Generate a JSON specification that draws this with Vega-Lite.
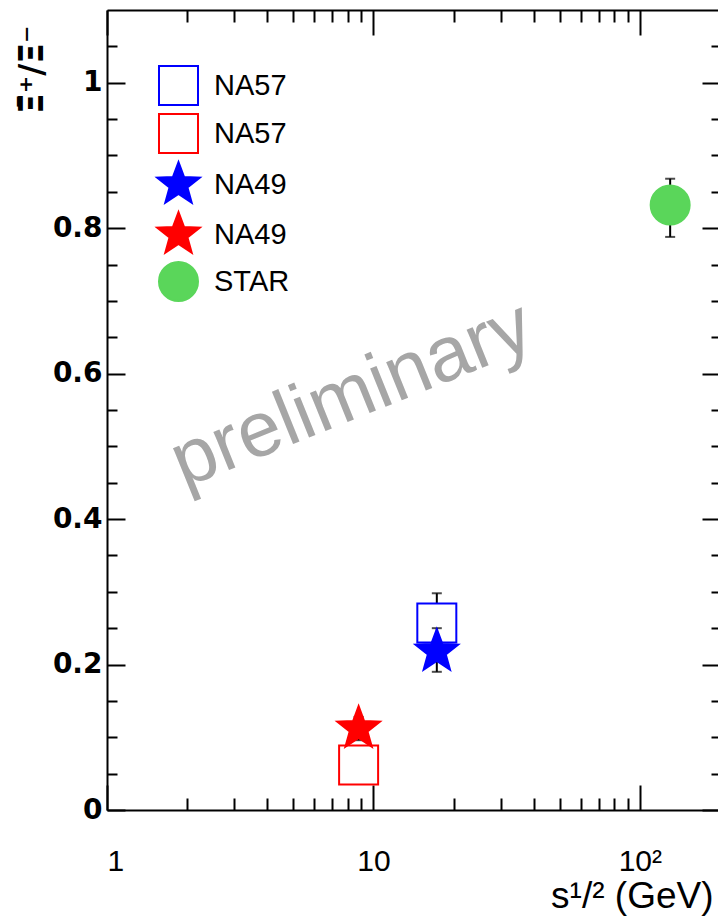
{
  "$schema": "https://vega.github.io/schema/vega-lite/v6.json",
  "width": 613,
  "height": 800,
  "autosize": "none",
  "padding": {"left": 107, "top": 10, "right": 0, "bottom": 107},
  "background": "white",
  "config": {
    "view": {"stroke": null},
    "axis": {"grid": false, "domainColor": "black", "domainWidth": 2, "tickColor": "black", "tickWidth": 2, "labelColor": "black", "titleColor": "black"}
  },
  "datasets": {
    "points": [
      {"series": "NA57 blue", "x": 17.3, "y": 0.257, "lo": 0.213, "hi": 0.298},
      {"series": "NA57 red", "x": 8.8, "y": 0.062, "lo": 0.054, "hi": 0.07},
      {"series": "NA49 blue", "x": 17.3, "y": 0.218, "lo": 0.19, "hi": 0.25},
      {"series": "NA49 red", "x": 8.8, "y": 0.112, "lo": 0.096, "hi": 0.128},
      {"series": "STAR", "x": 130, "y": 0.832, "lo": 0.788, "hi": 0.868}
    ],
    "watermark": [{"x": 8.31, "y": 0.57, "text": "preliminary"}]
  },
  "data": {"name": "points"},
  "resolve": {"axis": {"x": "independent", "y": "independent"}},
  "layer": [
    {
      "transform": [{"filter": "indexof(datum.series, 'NA57') == 0"}],
      "layer": [
        {"mark": {"type": "rule", "color": "black", "strokeWidth": 2},
         "encoding": {"x": {"field": "x", "type": "quantitative", "scale": {"type": "log", "domain": [1, 200], "nice": false}, "axis": null},
                      "y": {"field": "lo", "type": "quantitative", "scale": {"domain": [0, 1.1], "nice": false, "zero": false}, "axis": null},
                      "y2": {"field": "hi"}}},
        {"mark": {"type": "tick", "color": "black", "orient": "horizontal", "size": 10, "thickness": 2},
         "encoding": {"x": {"field": "x", "type": "quantitative", "axis": null}, "y": {"field": "hi", "type": "quantitative", "axis": null}}},
        {"mark": {"type": "tick", "color": "black", "orient": "horizontal", "size": 10, "thickness": 2},
         "encoding": {"x": {"field": "x", "type": "quantitative", "axis": null}, "y": {"field": "lo", "type": "quantitative", "axis": null}}}
      ]
    },
    {
      "transform": [{"filter": "indexof(datum.series, 'NA57') == 0"}],
      "mark": {"type": "point", "filled": true, "size": 1521, "strokeWidth": 2, "opacity": 1},
      "encoding": {
        "x": {"field": "x", "type": "quantitative", "scale": {"type": "log", "domain": [1, 200], "nice": false},
              "axis": {"orient": "bottom", "values": [1, 10, 100], "tickSize": -25, "labelPadding": 61,
                       "labelFont": "Liberation Sans", "labelFontSize": 30,
                       "labelExpr": "datum.value == 100 ? '10²' : datum.value == 10 ? '10' : '1'",
                       "title": "s¹/² (GeV)", "titleFont": "Liberation Sans", "titleFontSize": 37, "titleFontWeight": "normal",
                       "titleAnchor": "end", "titleX": 606, "titleAlign": "right", "titlePadding": 2}},
        "y": {"field": "y", "type": "quantitative", "scale": {"domain": [0, 1.1], "nice": false, "zero": false},
              "axis": {"orient": "left", "values": [0, 0.2, 0.4, 0.6, 0.8, 1], "tickSize": -18, "labelPadding": 23,
                       "labelFont": "DejaVu Sans", "labelFontWeight": "bold", "labelFontSize": 28,
                       "labelExpr": "format(datum.value, '~g')",
                       "title": "Ξ̄⁺/Ξ⁻", "titleFont": "DejaVu Sans", "titleFontWeight": "bold", "titleFontSize": 33,
                       "titleAnchor": "end", "titleY": 15, "titlePadding": 3}},
        "fill": {"field": "series", "type": "nominal",
                 "scale": {"domain": ["NA57 blue", "NA57 red", "NA49 blue", "NA49 red", "STAR"], "range": ["white", "white", "#0000ff", "#ff0000", "#5ad65a"]},
                 "legend": {"title": null, "orient": "none", "legendX": 51, "legendY": 55, "symbolSize": 1521, "symbolStrokeWidth": 2,
                            "labelFont": "Liberation Sans", "labelFontSize": 29, "labelColor": "black", "labelOffset": 15, "rowPadding": 1,
                            "labelExpr": "split(datum.label, ' ')[0]"}},
        "stroke": {"field": "series", "type": "nominal",
                   "scale": {"domain": ["NA57 blue", "NA57 red", "NA49 blue", "NA49 red", "STAR"], "range": ["#0000ff", "#ff0000", "#0000ff", "#ff0000", "#5ad65a"]},
                   "legend": {"title": null, "orient": "none", "legendX": 51, "legendY": 55, "symbolSize": 1521, "symbolStrokeWidth": 2,
                              "labelFont": "Liberation Sans", "labelFontSize": 29, "labelColor": "black", "labelOffset": 15, "rowPadding": 1,
                              "labelExpr": "split(datum.label, ' ')[0]"}},
        "shape": {"field": "series", "type": "nominal",
                  "scale": {"domain": ["NA57 blue", "NA57 red", "NA49 blue", "NA49 red", "STAR"],
                            "range": ["square", "square",
                                      "M0,-1.15L0.282,-0.388L1.094,-0.355L0.457,0.148L0.676,0.93L0,0.48L-0.676,0.93L-0.457,0.148L-1.094,-0.355L-0.282,-0.388Z",
                                      "M0,-1.15L0.282,-0.388L1.094,-0.355L0.457,0.148L0.676,0.93L0,0.48L-0.676,0.93L-0.457,0.148L-1.094,-0.355L-0.282,-0.388Z",
                                      "circle"]},
                  "legend": {"title": null, "orient": "none", "legendX": 51, "legendY": 55, "symbolSize": 1521, "symbolStrokeWidth": 2,
                             "labelFont": "Liberation Sans", "labelFontSize": 29, "labelColor": "black", "labelOffset": 15, "rowPadding": 1,
                             "labelExpr": "split(datum.label, ' ')[0]"}}
      }
    },
    {
      "transform": [{"filter": "indexof(datum.series, 'NA57') != 0"}],
      "layer": [
        {"mark": {"type": "rule", "color": "black", "strokeWidth": 2},
         "encoding": {"x": {"field": "x", "type": "quantitative", "axis": null},
                      "y": {"field": "lo", "type": "quantitative", "axis": null},
                      "y2": {"field": "hi"}}},
        {"mark": {"type": "tick", "color": "black", "orient": "horizontal", "size": 10, "thickness": 2},
         "encoding": {"x": {"field": "x", "type": "quantitative", "axis": null}, "y": {"field": "hi", "type": "quantitative", "axis": null}}},
        {"mark": {"type": "tick", "color": "black", "orient": "horizontal", "size": 10, "thickness": 2},
         "encoding": {"x": {"field": "x", "type": "quantitative", "axis": null}, "y": {"field": "lo", "type": "quantitative", "axis": null}}}
      ]
    },
    {
      "transform": [{"filter": "indexof(datum.series, 'NA57') != 0"}],
      "mark": {"type": "point", "filled": true, "size": 1521, "strokeWidth": 2, "opacity": 1},
      "encoding": {
        "x": {"field": "x", "type": "quantitative", "axis": null},
        "y": {"field": "y", "type": "quantitative", "axis": null},
        "fill": {"field": "series", "type": "nominal"},
        "stroke": {"field": "series", "type": "nominal"},
        "shape": {"field": "series", "type": "nominal"}
      }
    },
    {
      "mark": {"type": "point", "opacity": 0},
      "encoding": {
        "x": {"field": "x", "type": "quantitative",
              "axis": {"orient": "bottom", "values": [2, 3, 4, 5, 6, 7, 8, 9, 20, 30, 40, 50, 60, 70, 80, 90, 200], "tickSize": -12, "labels": false, "domain": false, "title": null}},
        "y": {"field": "y", "type": "quantitative",
              "axis": {"orient": "left", "values": [0.05, 0.1, 0.15, 0.25, 0.3, 0.35, 0.45, 0.5, 0.55, 0.65, 0.7, 0.75, 0.85, 0.9, 0.95, 1.05], "tickSize": -10, "labels": false, "domain": false, "title": null}}
      }
    },
    {
      "mark": {"type": "point", "opacity": 0},
      "encoding": {
        "x": {"field": "x", "type": "quantitative",
              "axis": {"orient": "top", "values": [1, 10, 100], "tickSize": -25, "labels": false, "domain": true, "title": null}},
        "y": {"field": "y", "type": "quantitative",
              "axis": {"orient": "right", "values": [0, 0.2, 0.4, 0.6, 0.8, 1], "tickSize": -18, "labels": false, "domain": true, "title": null}}
      }
    },
    {
      "mark": {"type": "point", "opacity": 0},
      "encoding": {
        "x": {"field": "x", "type": "quantitative",
              "axis": {"orient": "top", "values": [2, 3, 4, 5, 6, 7, 8, 9, 20, 30, 40, 50, 60, 70, 80, 90, 200], "tickSize": -12, "labels": false, "domain": false, "title": null}},
        "y": {"field": "y", "type": "quantitative",
              "axis": {"orient": "right", "values": [0.05, 0.1, 0.15, 0.25, 0.3, 0.35, 0.45, 0.5, 0.55, 0.65, 0.7, 0.75, 0.85, 0.9, 0.95, 1.05], "tickSize": -9, "labels": false, "domain": false, "title": null}}
      }
    },
    {
      "data": {"name": "watermark"},
      "mark": {"type": "text", "angle": -22, "fontSize": 78, "font": "Liberation Sans", "color": "#a6a6a6", "align": "center", "baseline": "middle"},
      "encoding": {
        "x": {"field": "x", "type": "quantitative", "axis": null},
        "y": {"field": "y", "type": "quantitative", "axis": null},
        "text": {"field": "text"}
      }
    }
  ]
}
